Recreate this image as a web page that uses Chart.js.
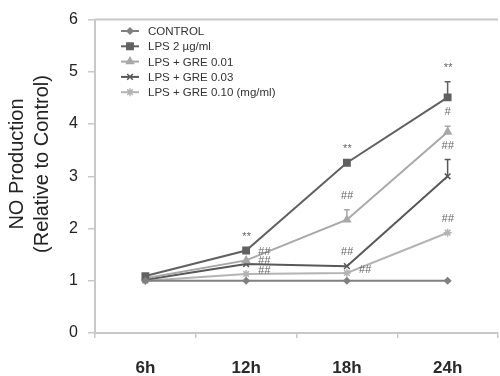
<!DOCTYPE html>
<html lang="en">
<head>
    <meta charset="UTF-8">
    <title>NO Production</title>
    <script src="https://cdn.jsdelivr.net/npm/chart.js"></script>
    <style>
        body {
            margin: 0;
            background: #ffffff;
            overflow: hidden;
        }
        #wrap {
            width: 504px;
            height: 376px;
        }
    </style>
</head>
<body>
    <div id="wrap"><canvas id="noChart" width="504" height="376"></canvas></div>

    <script>
        // Dados
        const timeLabels = ['6h', '12h', '18h', '24h'];
        const yTicks = [0, 1, 2, 3, 4, 5, 6];
        const yTitle = ['NO Production', '(Relative to Control)'];

        const control = [1.0, 1.0, 1.0, 1.0];
        const lps = [1.09, 1.58, 3.26, 4.51];
        const gre001 = [1.05, 1.39, 2.17, 3.85];
        const gre003 = [1.02, 1.32, 1.28, 3.0];
        const gre010 = [1.0, 1.13, 1.15, 1.92];

        // barras de erro (só para cima)
        const lpsErr = [0, 0, 0, 0.30];
        const gre001Err = [0, 0, 0.19, 0.11];
        const gre003Err = [0, 0, 0, 0.32];
        const gre010Err = [0, 0, 0, 0];

        // marcas de significância: série, ponto, texto, lado
        const marks = [
            [1, 1, '**', 'above'], [1, 2, '**', 'above'], [1, 3, '**', 'above'],
            [2, 1, '##', 'upright'], [2, 2, '##', 'above'], [2, 3, '#', 'above'],
            [3, 1, '##', 'right'], [3, 2, '##', 'above'], [3, 3, '##', 'above'],
            [4, 1, '##', 'right'], [4, 2, '##', 'right'], [4, 3, '##', 'above']
        ];

        const FONT = "'Liberation Sans', Arial, sans-serif";

        function ds(label, data, err, color, style, radius) {
            return {
                label: label,
                data: data,
                err: err,
                borderColor: color,
                backgroundColor: color,
                borderWidth: 2,
                pointStyle: style,
                pointRadius: radius,
                pointBorderWidth: 1.5,
                tension: 0,
                fill: false
            };
        }

        // barras de erro, anotações e título do eixo y
        const extras = {
            id: 'extras',
            afterDatasetsDraw(chart) {
                const ctx = chart.ctx;
                const y = chart.scales.y;
                chart.data.datasets.forEach((d, i) => {
                    const meta = chart.getDatasetMeta(i);
                    ctx.save();
                    ctx.strokeStyle = d.borderColor;
                    ctx.lineWidth = 1.5;
                    d.err.forEach((e, j) => {
                        if (!e) return;
                        const px = meta.data[j].x;
                        const top = y.getPixelForValue(d.data[j] + e);
                        ctx.beginPath();
                        ctx.moveTo(px, meta.data[j].y);
                        ctx.lineTo(px, top);
                        ctx.moveTo(px - 3, top);
                        ctx.lineTo(px + 3, top);
                        ctx.stroke();
                    });
                    ctx.restore();
                });
                ctx.save();
                ctx.font = 'italic 11px ' + FONT;
                ctx.fillStyle = '#666';
                ctx.textAlign = 'center';
                ctx.textBaseline = 'middle';
                marks.forEach(m => {
                    const d = chart.data.datasets[m[0]];
                    const pt = chart.getDatasetMeta(m[0]).data[m[1]];
                    if (m[3] === 'above') {
                        const top = y.getPixelForValue(d.data[m[1]] + d.err[m[1]]);
                        ctx.fillText(m[2], pt.x, top - 14);
                    } else if (m[3] === 'upright') {
                        ctx.fillText(m[2], pt.x + 18, pt.y - 8);
                    } else {
                        ctx.fillText(m[2], pt.x + 18, pt.y - 3);
                    }
                });
                ctx.restore();

                // borda de cima da área do gráfico
                const a = chart.chartArea;
                ctx.save();
                ctx.strokeStyle = '#c8c8c8';
                ctx.lineWidth = 2;
                ctx.beginPath();
                ctx.moveTo(a.left, a.top);
                ctx.lineTo(a.right, a.top);
                ctx.stroke();

                // título do eixo y, em duas linhas
                ctx.translate(29, 164);
                ctx.rotate(-Math.PI / 2);
                ctx.font = '20px ' + FONT;
                ctx.fillStyle = '#222';
                ctx.textAlign = 'center';
                ctx.textBaseline = 'middle';
                ctx.fillText(yTitle[0], 0, -12);
                ctx.fillText(yTitle[1], 0, 13);
                ctx.restore();
            }
        };

        // legenda dentro da área do gráfico
        const boxLegend = {
            id: 'boxLegend',
            afterDraw(chart) {
                const ctx = chart.ctx;
                const x0 = 121, y0 = 31, step = 15.3;
                ctx.save();
                ctx.font = '11.5px ' + FONT;
                ctx.textBaseline = 'middle';
                chart.data.datasets.forEach((d, i) => {
                    const yy = y0 + i * step;
                    ctx.strokeStyle = d.borderColor;
                    ctx.fillStyle = d.borderColor;
                    ctx.lineWidth = 2;
                    ctx.beginPath();
                    ctx.moveTo(x0, yy);
                    ctx.lineTo(x0 + 18, yy);
                    ctx.stroke();
                    ctx.lineWidth = 1.5;
                    Chart.helpers.drawPoint(ctx, {
                        pointStyle: d.pointStyle,
                        radius: d.pointRadius,
                        borderWidth: 1.5
                    }, x0 + 9, yy);
                    ctx.fillStyle = '#333';
                    ctx.fillText(d.label, x0 + 27, yy + 1);
                });
                ctx.restore();
            }
        };

        const ctx = document.getElementById('noChart').getContext('2d');
        const myChart = new Chart(ctx, {
            type: 'line',
            data: {
                labels: timeLabels,
                datasets: [
                    ds('CONTROL', control, [0, 0, 0, 0], '#808080', 'rectRot', 3),
                    ds('LPS 2 \u00b5g/ml', lps, lpsErr, '#616161', 'rect', 4.5),
                    ds('LPS + GRE 0.01', gre001, gre001Err, '#a8a8a8', 'triangle', 4),
                    ds('LPS + GRE 0.03', gre003, gre003Err, '#585858', 'crossRot', 4),
                    ds('LPS + GRE 0.10 (mg/ml)', gre010, gre010Err, '#b4b4b4', 'star', 4)
                ]
            },
            options: {
                responsive: false,
                animation: false,
                layout: { padding: { top: 16, right: 0, left: 0, bottom: 0 } },
                plugins: {
                    legend: { display: false },
                    tooltip: { enabled: false }
                },
                scales: {
                    x: {
                        offset: true,
                        grid: {
                            display: true,
                            offset: true,
                            drawOnChartArea: false,
                            tickLength: 5,
                            color: '#c8c8c8',
                            lineWidth: 1.5
                        },
                        border: { color: '#c8c8c8', width: 2 },
                        ticks: {
                            padding: 20,
                            color: '#2a2a2a',
                            font: { family: FONT, size: 17, weight: 'bold' }
                        },
                        afterFit(scale) { scale.height = 43; }
                    },
                    y: {
                        min: 0,
                        max: 6,
                        afterBuildTicks(scale) {
                            scale.ticks = yTicks.map(v => ({ value: v }));
                        },
                        grid: {
                            display: true,
                            drawOnChartArea: false,
                            tickLength: 7,
                            color: '#c8c8c8',
                            lineWidth: 1.5
                        },
                        border: { color: '#c8c8c8', width: 2 },
                        ticks: {
                            padding: 10,
                            color: '#222',
                            font: { family: FONT, size: 16 }
                        },
                        afterFit(scale) { scale.width = 95; }
                    }
                }
            },
            plugins: [extras, boxLegend]
        });
    </script>
</body>
</html>
